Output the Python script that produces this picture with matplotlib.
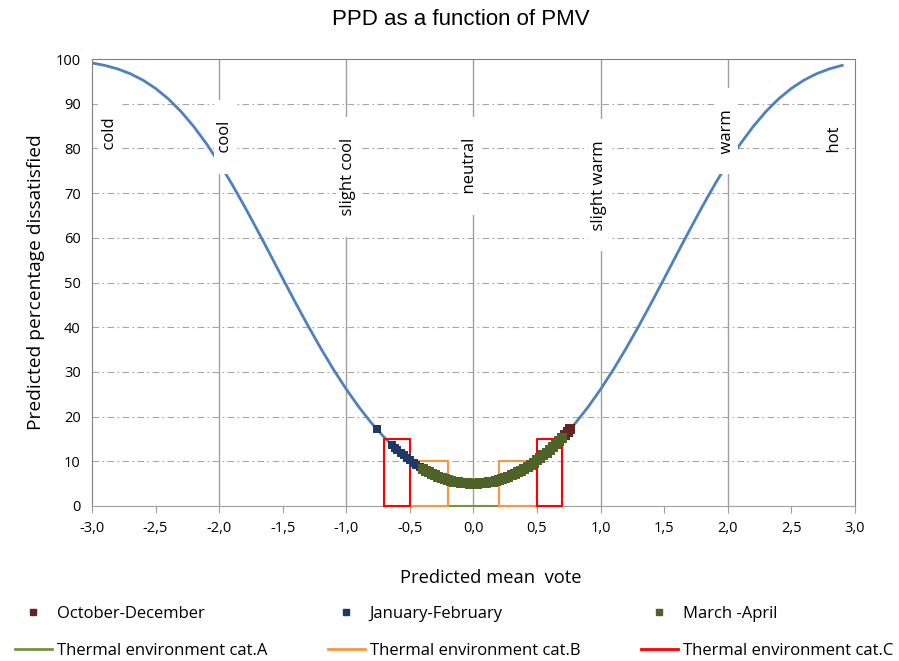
import numpy as np
import matplotlib
matplotlib.use('Agg')
import matplotlib.pyplot as plt
from matplotlib.lines import Line2D

plt.rcParams['font.family'] = ['Open Sans', 'DejaVu Sans']

# PPD curve
pmv = [-3.0, -2.9, -2.8, -2.7, -2.6, -2.5, -2.4, -2.3, -2.2, -2.1,
       -2.0, -1.9, -1.8, -1.7, -1.6, -1.5, -1.4, -1.3, -1.2, -1.1,
       -1.0, -0.9, -0.8, -0.7, -0.6, -0.5, -0.4, -0.3, -0.2, -0.1,
       0.0, 0.1, 0.2, 0.3, 0.4, 0.5, 0.6, 0.7, 0.8, 0.9,
       1.0, 1.1, 1.2, 1.3, 1.4, 1.5, 1.6, 1.7, 1.8, 1.9,
       2.0, 2.1, 2.2, 2.3, 2.4, 2.5, 2.6, 2.7, 2.8, 2.9]
ppd = [99.12, 98.58, 97.81, 96.73, 95.29, 93.43, 91.10, 88.26, 84.91, 81.07,
       76.76, 72.05, 67.02, 61.75, 56.35, 50.90, 45.51, 40.27, 35.25, 30.51,
       26.12, 22.10, 18.49, 15.30, 12.55, 10.23, 8.33, 6.87, 5.83, 5.21,
       5.00, 5.21, 5.83, 6.87, 8.33, 10.23, 12.55, 15.30, 18.49, 22.10,
       26.12, 30.51, 35.25, 40.27, 45.51, 50.90, 56.35, 61.75, 67.02, 72.05,
       76.76, 81.07, 84.91, 88.26, 91.10, 93.43, 95.29, 96.73, 97.81, 98.58]

# measured points
oct_dec_x = [0.70, 0.72, 0.74, 0.76]
oct_dec_y = [15.30, 15.91, 16.53, 17.17]

jan_feb_x = [-0.76, -0.64, -0.62, -0.60, -0.57, -0.55, -0.52, -0.50, -0.47, -0.45, -0.42, -0.40, -0.38]
jan_feb_y = [17.17, 13.60, 13.07, 12.55, 11.81, 11.33, 10.66, 10.23, 9.61, 9.23, 8.68, 8.33, 8.01]

mar_apr_x = [-0.400, -0.375, -0.350, -0.325, -0.300, -0.275, -0.250, -0.225, -0.200, -0.175,
             -0.150, -0.125, -0.100, -0.075, -0.050, -0.025, 0.000, 0.025, 0.050, 0.075,
             0.100, 0.125, 0.150, 0.175, 0.200, 0.225, 0.250, 0.275, 0.300, 0.325,
             0.350, 0.375, 0.400, 0.425, 0.450, 0.475, 0.500, 0.525, 0.550, 0.575,
             0.600, 0.625, 0.650, 0.675, 0.700]
mar_apr_y = [8.33, 7.93, 7.55, 7.20, 6.87, 6.57, 6.30, 6.05, 5.83, 5.63,
             5.47, 5.32, 5.21, 5.12, 5.05, 5.01, 5.00, 5.01, 5.05, 5.12,
             5.21, 5.32, 5.47, 5.63, 5.83, 6.05, 6.30, 6.57, 6.87, 7.20,
             7.55, 7.93, 8.33, 8.77, 9.23, 9.71, 10.23, 10.77, 11.33, 11.93,
             12.55, 13.20, 13.87, 14.58, 15.30]

# thermal environment categories (boxes)
cat_a_x = [-0.2, -0.2, 0.2, 0.2, -0.2]
cat_a_y = [0, 6, 6, 0, 0]
cat_b_x = [-0.5, -0.5, -0.2, -0.2, -0.5, np.nan, 0.2, 0.2, 0.5, 0.5, 0.2]
cat_b_y = [0, 10, 10, 0, 0, np.nan, 0, 10, 10, 0, 0]
cat_c_x = [-0.7, -0.7, -0.5, -0.5, -0.7, np.nan, 0.5, 0.5, 0.7, 0.7, 0.5]
cat_c_y = [0, 15, 15, 0, 0, np.nan, 0, 15, 15, 0, 0]

# sensation labels
sens_labels = ['cold', 'cool', 'slight cool', 'neutral', 'slight warm', 'warm', 'hot']
sens_x = [-2.86, -1.95, -0.99, -0.03, 0.99, 1.99, 2.84]
sens_y = [83.4, 82.6, 73.6, 76.1, 71.8, 83.9, 81.9]
vlines_x = [-2, -1, 0, 1, 2]

xticks = [-3.0, -2.5, -2.0, -1.5, -1.0, -0.5, 0.0, 0.5, 1.0, 1.5, 2.0, 2.5, 3.0]
yticks = [0, 10, 20, 30, 40, 50, 60, 70, 80, 90, 100]

fig = plt.figure(figsize=(8.99, 6.61), dpi=100)
ax = fig.add_axes([0.1023, 0.2345, 0.8487, 0.6762])

ax.set_xlim(-3, 3)
ax.set_ylim(0, 100)

for y in yticks[1:-1]:
    ax.axhline(y, color='#a6a6a6', lw=0.8, ls=(0, (6, 3, 1.5, 3)), zorder=1)
for x in vlines_x:
    ax.axvline(x, color='#a0a0a0', lw=1.0, zorder=1)

ax.plot(pmv, ppd, color='#4f81bd', lw=2.0, zorder=2)

ax.plot(cat_a_x, cat_a_y, color='#77933c', lw=1.5, zorder=3, clip_on=False)
ax.plot(cat_b_x, cat_b_y, color='#f79646', lw=1.5, zorder=3, clip_on=False)
ax.plot(cat_c_x, cat_c_y, color='#ff0000', lw=1.5, zorder=3, clip_on=False)

ax.scatter(oct_dec_x, oct_dec_y, marker='s', s=45, color='#632523', lw=0, zorder=4)
ax.scatter(jan_feb_x, jan_feb_y, marker='s', s=30, color='#1f3864', lw=0, zorder=4)
ax.scatter(mar_apr_x, mar_apr_y, marker='s', s=55, color='#4f6228', lw=0, zorder=5)

for lab, x, y in zip(sens_labels, sens_x, sens_y):
    ax.text(x, y, '    ' + lab + '    ', rotation=90, ha='center', va='center', fontsize=12,
            bbox=dict(facecolor='white', edgecolor='none', boxstyle='square,pad=0.2'), zorder=6)

ax.set_xticks(xticks)
ax.set_xticklabels([f'{t:.1f}'.replace('.', ',') for t in xticks], fontsize=10.5)
ax.set_yticks(yticks)
ax.set_yticklabels([str(t) for t in yticks], fontsize=10.5)
ax.tick_params(axis='x', length=5, color='#a0a0a0', pad=6)
ax.tick_params(axis='y', length=0, pad=8)

for side in ['left', 'top', 'right']:
    ax.spines[side].set_color('#808080')
ax.spines['bottom'].set_color('#a0a0a0')

ax.set_ylabel('Predicted percentage dissatisfied', fontsize=13.8, labelpad=8)
ax.set_xlabel('Predicted mean  vote', fontsize=13.2)
ax.xaxis.set_label_coords(0.523, -0.14)
fig.text(0.513, 0.970, 'PPD as a function of PMV', fontsize=16, family='Liberation Sans',
         ha='center', va='center')

handles = [Line2D([], [], ls='none', marker='s', ms=5, color='#632523'),
           Line2D([], [], color='#77933c', lw=2),
           Line2D([], [], ls='none', marker='s', ms=5, color='#1f3864'),
           Line2D([], [], color='#f79646', lw=2),
           Line2D([], [], ls='none', marker='s', ms=5, color='#4f6228'),
           Line2D([], [], color='#ff0000', lw=2)]
labels = ['October-December', 'Thermal environment cat.A',
          'January-February', 'Thermal environment cat.B',
          'March -April', 'Thermal environment cat.C']
fig.legend(handles, labels, ncol=3, loc='center left', bbox_to_anchor=(0.0167, 0.0435),
           frameon=False, fontsize=12.0, borderpad=0, borderaxespad=0,
           handlelength=2.2, handletextpad=0.3, columnspacing=3.65, labelspacing=1.25)

fig.savefig('out.png', dpi=100)
